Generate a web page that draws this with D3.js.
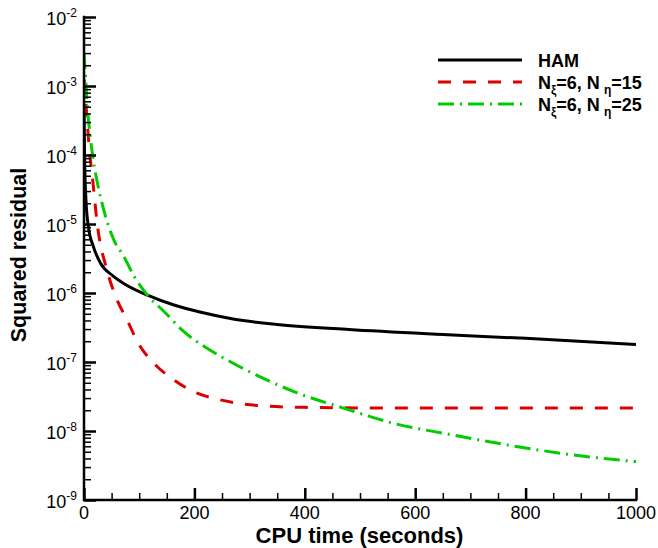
<!DOCTYPE html>
<html>
<head>
<meta charset="utf-8">
<script src="https://cdn.jsdelivr.net/npm/d3@7"></script>
<style>
  body { margin: 0; background: #fff; }
  text { font-family: "Liberation Sans", Arial, Helvetica, sans-serif; }
</style>
</head>
<body>
<div id="app"></div>
<script>
// values (CPU seconds, squared residual)
const hamTime = [ 0, 1, 3.6, 8, 17, 30, 53, 75, 115, 163, 210, 270, 350, 480, 650, 800, 1000 ];
const hamResidual = [ 5e-4, 1e-4, 2.2e-5, 9.1e-6, 4.7e-6, 2.7e-6, 1.76e-6, 1.33e-6, 9.3e-7, 6.7e-7, 5.3e-7, 4.2e-7, 3.5e-7, 2.95e-7, 2.5e-7, 2.2e-7, 1.8e-7 ];

const n15Time = [ 0, 3, 6, 10, 15, 24, 42, 60, 78, 97, 127, 163, 199, 241, 290, 330, 400, 600, 1000 ];
const n15Residual = [ 1.26e-3, 6.3e-4, 2.9e-4, 1.12e-4, 5e-5, 1e-5, 2.1e-6, 7.9e-7, 4.1e-7, 1.95e-7, 9.5e-8, 5.5e-8, 3.7e-8, 2.9e-8, 2.45e-8, 2.3e-8, 2.2e-8, 2.15e-8, 2.15e-8 ];

const n25Time = [ 0, 3, 6, 11, 17, 25, 36, 54, 72, 91, 115, 145, 181, 223, 266, 326, 385, 470, 566, 657, 766, 886, 1000 ];
const n25Residual = [ 3e-3, 1.26e-3, 5e-4, 1.95e-4, 8.3e-5, 3.7e-5, 1.58e-5, 5.9e-6, 3.4e-6, 1.74e-6, 9.3e-7, 5.4e-7, 2.75e-7, 1.58e-7, 1e-7, 5.75e-8, 3.6e-8, 2.15e-8, 1.26e-8, 9.1e-9, 6.3e-9, 4.5e-9, 3.6e-9 ];

const xMajorTicks = [ 0, 200, 400, 600, 800, 1000 ];
const yExponents = [ -2, -3, -4, -5, -6, -7, -8, -9 ];

const series = [
  { name: 'HAM', sub: null, time: hamTime, residual: hamResidual, color: '#000000', dash: null },
  { name: 'N', sub: [ 'ξ', '=6, N', 'η', '=15' ], time: n15Time, residual: n15Residual, color: '#dd0000', dash: '13,12' },
  { name: 'N', sub: [ 'ξ', '=6, N', 'η', '=25' ], time: n25Time, residual: n25Residual, color: '#00cc00', dash: '16,6,2,6' }
];

const width = 658, height = 548;
const plotLeft = 84, plotRight = 636, plotTop = 17, plotBottom = 500;

const xScale = d3.scaleLinear().domain( [ 0, 1000 ] ).range( [ plotLeft, plotRight ] );
const yScale = d3.scaleLog().domain( [ 1e-9, 1e-2 ] ).range( [ plotBottom, plotTop ] );

const svg = d3.select( '#app' )
  .append( 'svg' )
  .attr( 'width', width )
  .attr( 'height', height );

svg.append( 'defs' ).append( 'clipPath' ).attr( 'id', 'plot' )
  .append( 'rect' )
  .attr( 'x', plotLeft ).attr( 'y', plotTop )
  .attr( 'width', plotRight - plotLeft ).attr( 'height', plotBottom - plotTop );

// curves
const line = d3.line()
  .x( d => xScale( d[0] ) )
  .y( d => yScale( d[1] ) )
  .curve( d3.curveMonotoneX );

svg.append( 'g' )
  .attr( 'clip-path', 'url(#plot)' )
  .selectAll( 'path' )
  .data( series )
  .enter()
  .append( 'path' )
  .attr( 'd', s => line( s.time.map( ( t, i ) => [ t, s.residual[i] ] ) ) )
  .attr( 'fill', 'none' )
  .attr( 'stroke', s => s.color )
  .attr( 'stroke-width', 3 )
  .attr( 'stroke-dasharray', s => s.dash );

// x axis: major every 200, minor every 50, ticks pointing inward
const xMinor = d3.range( 0, 1001, 50 ).filter( v => v % 200 !== 0 );
svg.append( 'g' )
  .attr( 'transform', `translate(0,${plotBottom})` )
  .call( d3.axisTop( xScale ).tickValues( xMinor ).tickSize( 7 ).tickFormat( '' ) )
  .call( g => g.select( '.domain' ).remove() )
  .selectAll( 'line' ).attr( 'stroke-width', 1.5 );

const xAxis = svg.append( 'g' )
  .attr( 'transform', `translate(0,${plotBottom})` )
  .call( d3.axisTop( xScale ).tickValues( xMajorTicks ).tickSize( 12 ).tickFormat( '' ) );
xAxis.select( '.domain' ).remove();
xAxis.selectAll( 'line' ).attr( 'stroke-width', 2.5 );

svg.append( 'g' )
  .selectAll( 'text' )
  .data( xMajorTicks )
  .enter()
  .append( 'text' )
  .attr( 'x', d => xScale( d ) )
  .attr( 'y', 518.5 )
  .attr( 'text-anchor', 'middle' )
  .attr( 'font-size', 18 )
  .text( d => d );

// y axis: decades with 2..9 minor ticks
const yMajor = yExponents.map( e => Math.pow( 10, e ) );
const yMinor = [];
yExponents.slice( 1 ).forEach( e => {
  for ( let k = 2; k <= 9; k++ ) yMinor.push( k * Math.pow( 10, e ) );
} );

svg.append( 'g' )
  .attr( 'transform', `translate(${plotLeft},0)` )
  .call( d3.axisRight( yScale ).tickValues( yMinor ).tickSize( 7 ).tickFormat( '' ) )
  .call( g => g.select( '.domain' ).remove() )
  .selectAll( 'line' ).attr( 'stroke-width', 1.5 );

const yAxis = svg.append( 'g' )
  .attr( 'transform', `translate(${plotLeft},0)` )
  .call( d3.axisRight( yScale ).tickValues( yMajor ).tickSize( 12 ).tickFormat( '' ) );
yAxis.select( '.domain' ).remove();
yAxis.selectAll( 'line' ).attr( 'stroke-width', 2.5 );

const yLabels = svg.append( 'g' )
  .selectAll( 'text' )
  .data( yExponents )
  .enter()
  .append( 'text' )
  .attr( 'x', 77 )
  .attr( 'y', e => yScale( Math.pow( 10, e ) ) + 8 )
  .attr( 'text-anchor', 'end' )
  .attr( 'font-size', 18 );
yLabels.append( 'tspan' ).text( '10' );
yLabels.append( 'tspan' ).attr( 'dy', -8 ).attr( 'font-size', 12 ).text( e => e );

// axis lines
svg.append( 'path' )
  .attr( 'd', `M${plotLeft},${plotTop}V${plotBottom}H${plotRight}` )
  .attr( 'fill', 'none' )
  .attr( 'stroke', '#000' )
  .attr( 'stroke-width', 2.5 )
  .attr( 'stroke-linecap', 'square' );

// axis titles
svg.append( 'text' )
  .attr( 'x', 359.5 )
  .attr( 'y', 542.5 )
  .attr( 'text-anchor', 'middle' )
  .attr( 'font-size', 22 )
  .attr( 'font-weight', 'bold' )
  .text( 'CPU time (seconds)' );

svg.append( 'text' )
  .attr( 'transform', 'translate(26,255) rotate(-90)' )
  .attr( 'text-anchor', 'middle' )
  .attr( 'font-size', 21.5 )
  .attr( 'font-weight', 'bold' )
  .text( 'Squared residual' );

// legend
const legend = svg.append( 'g' )
  .selectAll( 'g' )
  .data( series )
  .enter()
  .append( 'g' )
  .attr( 'transform', ( d, i ) => `translate(438,${60 + i * 22})` );

legend.append( 'line' )
  .attr( 'x1', 0 ).attr( 'x2', 84 )
  .attr( 'stroke', d => d.color )
  .attr( 'stroke-width', 3 )
  .attr( 'stroke-dasharray', d => d.dash );

const legendText = legend.append( 'text' )
  .attr( 'x', 100 )
  .attr( 'y', 7 )
  .attr( 'font-size', 18 )
  .attr( 'font-weight', 'bold' )
  .text( d => d.name );

legendText.filter( d => d.sub ).each( function( d ) {
  const t = d3.select( this );
  t.append( 'tspan' ).attr( 'dy', 5 ).attr( 'font-size', 12 ).text( d.sub[0] );
  t.append( 'tspan' ).attr( 'dy', -5 ).text( d.sub[1] );
  t.append( 'tspan' ).attr( 'dx', 4 ).attr( 'dy', 5 ).attr( 'font-size', 12 ).text( d.sub[2] );
  t.append( 'tspan' ).attr( 'dy', -5 ).text( d.sub[3] );
} );
</script>
</body>
</html>
